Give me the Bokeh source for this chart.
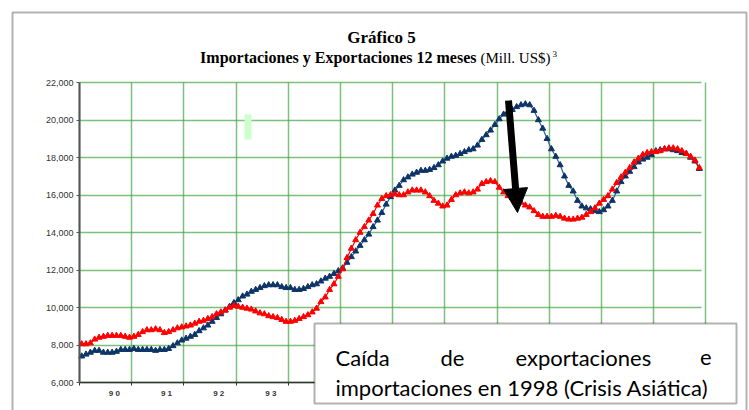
import numpy as np
from bokeh.plotting import figure
from bokeh.models import FixedTicker, Label, BoxAnnotation, Arrow, NormalHead, NumeralTickFormatter
from bokeh.embed import file_html
from bokeh.resources import INLINE

# ---------------- data (12-month rolling, Mill. US$), monthly Jan 1990 - Nov 2001 ----------------
year_labels = ["9 0", "9 1", "9 2", "9 3", "9 4", "9 5", "9 6", "9 7", "9 8", "9 9", "0 0", "0 1"]

imp_1990 = [7400, 7500, 7600, 7700, 7700, 7600, 7600, 7600, 7650, 7750, 7750, 7750]
imp_1991 = [7800, 7750, 7750, 7750, 7750, 7700, 7750, 7750, 7800, 7950, 8100, 8250]
imp_1992 = [8350, 8450, 8550, 8750, 8900, 9050, 9250, 9450, 9650, 9850, 10050, 10250]
imp_1993 = [10400, 10600, 10700, 10850, 10950, 11050, 11150, 11200, 11200, 11200, 11100, 11050]
imp_1994 = [11050, 10950, 10950, 11000, 11100, 11200, 11250, 11400, 11550, 11650, 11800, 11950]
imp_1995 = [12100, 12400, 12700, 13000, 13300, 13600, 13900, 14300, 14650, 15050, 15500, 15900]
imp_1996 = [16250, 16500, 16800, 16950, 17100, 17200, 17300, 17300, 17350, 17450, 17600, 17800]
imp_1997 = [17950, 18050, 18100, 18200, 18300, 18400, 18450, 18650, 18950, 19200, 19450, 19750]
imp_1998 = [20050, 20300, 20450, 20550, 20700, 20800, 20850, 20800, 20500, 20000, 19550, 19000]
imp_1999 = [18450, 18050, 17600, 17000, 16500, 16200, 15700, 15400, 15300, 15250, 15150, 15100]
imp_2000 = [15200, 15400, 15700, 16200, 16700, 17000, 17250, 17500, 17750, 17900, 18000, 18150]
imp_2001 = [18350, 18400, 18450, 18450, 18400, 18350, 18250, 18200, 18000, 17800, 17400]

exp_1990 = [8050, 8050, 8100, 8300, 8400, 8450, 8500, 8500, 8500, 8500, 8450, 8400]
exp_1991 = [8450, 8550, 8700, 8800, 8800, 8850, 8800, 8650, 8700, 8800, 8900, 8950]
exp_1992 = [9000, 9050, 9150, 9250, 9300, 9400, 9500, 9650, 9750, 9850, 10000, 10100]
exp_1993 = [10050, 10000, 9950, 9900, 9800, 9700, 9650, 9550, 9500, 9450, 9350, 9250]
exp_1994 = [9250, 9300, 9400, 9500, 9600, 9750, 9950, 10300, 10550, 10950, 11250, 11650]
exp_1995 = [12050, 12650, 13150, 13600, 14000, 14300, 14650, 15000, 15450, 15800, 15950, 16000]
exp_1996 = [16050, 16000, 16000, 16150, 16250, 16250, 16250, 16150, 15950, 15700, 15550, 15400]
exp_1997 = [15450, 15750, 16000, 16100, 16150, 16100, 16150, 16300, 16600, 16700, 16750, 16700]
exp_1998 = [16400, 16150, 15950, 15850, 15650, 15600, 15450, 15350, 15150, 14950, 14850, 14850]
exp_1999 = [14850, 14900, 14850, 14750, 14700, 14700, 14750, 14800, 14950, 15100, 15300, 15550]
exp_2000 = [15750, 15950, 16300, 16650, 16950, 17200, 17450, 17750, 17950, 18150, 18250, 18300]
exp_2001 = [18300, 18350, 18450, 18500, 18500, 18450, 18350, 18200, 18050, 17850, 17450]

importaciones = (imp_1990 + imp_1991 + imp_1992 + imp_1993 + imp_1994 + imp_1995 +
                 imp_1996 + imp_1997 + imp_1998 + imp_1999 + imp_2000 + imp_2001)
exportaciones = (exp_1990 + exp_1991 + exp_1992 + exp_1993 + exp_1994 + exp_1995 +
                 exp_1996 + exp_1997 + exp_1998 + exp_1999 + exp_2000 + exp_2001)

y_ticks = list(range(6000, 22001, 2000))

# ---------------- layout helpers (page pixels -> data) ----------------
W, H = 749, 410
FL, FR, FT, FB = 79, 701, 82, 382          # plotting-area edges in page px
X0, X1 = 0, 143                            # months since Jan 1990
Y0, Y1 = 6000, 22000


def px_x(px):
    return X0 + (px - FL) * (X1 - X0) / (FR - FL)


def px_y(py):
    return Y1 - (py - FT) * (Y1 - Y0) / (FB - FT)


def sx(px):
    return px


def sy(py):
    return H - py


x = np.arange(len(importaciones)) + 0.5

p = figure(width=W, height=H, x_range=(px_x(0), px_x(W)), y_range=(px_y(H), px_y(0)),
           output_backend="svg", toolbar_location=None, title_location=None,
           min_border_left=0, min_border_right=0, min_border_top=0, min_border_bottom=0)
p.outline_line_color = None
p.background_fill_color = "white"
p.border_fill_color = "white"

# grids
p.xgrid.ticker = FixedTicker(ticks=[12 * k for k in range(13)])
p.ygrid.ticker = FixedTicker(ticks=y_ticks)
p.xgrid.bounds = (X0, X1)
p.xgrid.cross_bounds = (Y0, Y1)
p.ygrid.bounds = (Y0, Y1)
p.ygrid.cross_bounds = (X0, X1)
for g in (p.xgrid, p.ygrid):
    g.grid_line_color = "#44a544"
    g.grid_line_alpha = 0.7
    g.grid_line_width = 1.5

# y axis
p.yaxis.fixed_location = X0
p.yaxis.bounds = (Y0, Y1)
p.yaxis.ticker = FixedTicker(ticks=y_ticks)
p.yaxis.formatter = NumeralTickFormatter(format="0,0")
p.yaxis.axis_line_color = "#555555"
p.yaxis.axis_line_width = 2
p.yaxis.major_tick_out = 3
p.yaxis.major_tick_in = 0
p.yaxis.minor_tick_out = 0
p.yaxis.major_tick_line_color = "#555555"
p.yaxis.major_label_text_font = "Liberation Sans"
p.yaxis.major_label_text_font_size = "9px"
p.yaxis.major_label_text_color = "#333333"
p.yaxis.major_label_standoff = 3

# x axis: labels mid-year, small ticks at year boundaries
label_pos = [12 * k + 8 for k in range(len(year_labels))]
p.xaxis.fixed_location = Y0
p.xaxis.bounds = (X0, X1)
p.xaxis.ticker = FixedTicker(ticks=label_pos, minor_ticks=[12 * k for k in range(13)])
p.xaxis.major_label_overrides = {pos: lab for pos, lab in zip(label_pos, year_labels)}
p.xaxis.major_tick_out = 0
p.xaxis.major_tick_in = 0
p.xaxis.minor_tick_out = 3
p.xaxis.minor_tick_in = 0
p.xaxis.minor_tick_line_color = "#333333"
p.xaxis.axis_line_color = "#333333"
p.xaxis.axis_line_width = 1.5
p.xaxis.major_label_text_font = "Liberation Sans"
p.xaxis.major_label_text_font_style = "bold"
p.xaxis.major_label_text_font_size = "8px"
p.xaxis.major_label_text_color = "#333333"
p.xaxis.major_label_standoff = 3

# small light-green mark
p.add_layout(BoxAnnotation(left=px_x(244), right=px_x(251), top=px_y(114), bottom=px_y(139),
                           fill_color="#ccffcc", fill_alpha=1, line_color=None))

# series
p.line(x, importaciones, line_color="#2f5f9a", line_width=1.2)
p.scatter(x, importaciones, marker="triangle", size=6, fill_color="#0d3467", line_color="#0d3467")
p.line(x, exportaciones, line_color="#ff0000", line_width=1.2)
p.scatter(x, exportaciones, marker="triangle", size=6, fill_color="#ff0000", line_color="#ff0000")

# arrow
p.add_layout(Arrow(x_start=px_x(508), y_start=px_y(100), x_end=px_x(517), y_end=px_y(212),
                   line_width=7, line_color="black",
                   end=NormalHead(size=24, fill_color="black", line_color="black")))

# outer frame
p.add_layout(BoxAnnotation(left=px_x(12), right=px_x(746), top=px_y(12), bottom=px_y(440),
                           fill_alpha=0, line_color="black", line_width=2))

# titles
p.add_layout(Label(x=sx(381), y=sy(37), x_units="screen", y_units="screen", text="Gráfico 5",
                   text_font="Liberation Serif", text_font_style="bold", text_font_size="17px",
                   text_align="center", text_baseline="middle", text_color="black"))
p.add_layout(Label(x=sx(476), y=sy(57), x_units="screen", y_units="screen",
                   text="Importaciones y Exportaciones 12 meses",
                   text_font="Liberation Serif", text_font_style="bold", text_font_size="16px",
                   text_align="right", text_baseline="middle", text_color="black"))
p.add_layout(Label(x=sx(480), y=sy(57), x_units="screen", y_units="screen", text="(Mill. US$)",
                   text_font="Liberation Serif", text_font_size="15px",
                   text_align="left", text_baseline="middle", text_color="black"))
p.add_layout(Label(x=sx(552), y=sy(53), x_units="screen", y_units="screen", text="3",
                   text_font="Liberation Serif", text_font_size="9px",
                   text_align="left", text_baseline="middle", text_color="black"))

# annotation text box
p.add_layout(BoxAnnotation(left=px_x(314), right=px_x(736), top=px_y(323), bottom=px_y(403),
                           fill_color="white", fill_alpha=1, line_color="black", line_width=2))
box_font = dict(text_font="Lato", text_font_size="22px", text_color="black",
                x_units="screen", y_units="screen", text_baseline="alphabetic")
p.add_layout(Label(x=sx(335), y=sy(357), text="Caída", text_align="left", **box_font))
p.add_layout(Label(x=sx(440), y=sy(357), text="de", text_align="left", **box_font))
p.add_layout(Label(x=sx(515), y=sy(357), text="exportaciones", text_align="left", **box_font))
p.add_layout(Label(x=sx(711), y=sy(357), text="e", text_align="right", **box_font))
p.add_layout(Label(x=sx(335), y=sy(387), text="importaciones en 1998 (Crisis Asiática)",
                   text_align="left", **box_font))

open("out.html", "w").write(file_html(p, INLINE))
